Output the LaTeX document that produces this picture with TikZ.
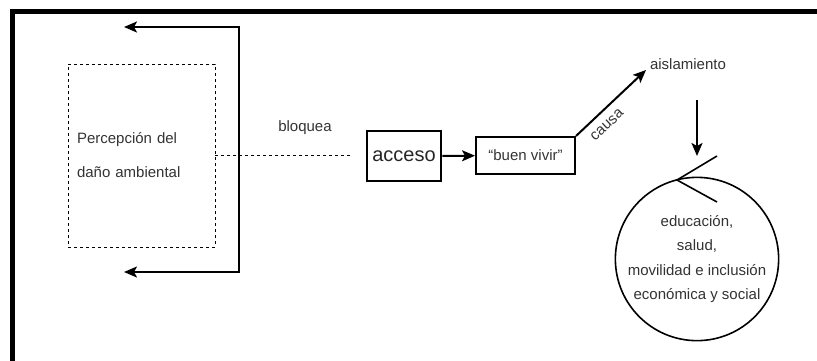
\documentclass[tikz,border=0pt]{standalone}
\usepackage{fontspec}
\setmainfont{Liberation Sans}
\usetikzlibrary{arrows.meta,positioning}
\definecolor{txtgray}{HTML}{333333}
\newcommand{\connectarrow}[2]{%
  \draw[->, line width=2pt] (#1) -- (#2)}
\newcommand{\connectdashed}[2]{%
  \draw[dashed, line width=0.9pt] (#1) -- (#2)}

\begin{document}
\begin{tikzpicture}[x=1pt, y=-1pt,
    every node/.style={text=txtgray, font=\fontsize{15}{18}\selectfont},
    dashbox/.style={rectangle, draw, dashed, line width=0.9pt,
    minimum width=147pt, minimum height=183pt, text width=129pt,
    inner xsep=9pt, align=left, font=\fontsize{15}{34}\selectfont},
    box/.style={rectangle, draw, line width=2pt, inner sep=0pt},
    bigcircle/.style={circle, draw, line width=1.6pt, minimum size=160pt,
    inner sep=0pt, align=center, font=\fontsize{15}{24.3}\selectfont},
    >={Stealth[length=13pt, width=11pt, inset=3pt]}]
  \useasboundingbox (0,0) rectangle (817,360);
  \draw[line width=5pt] (12,365) -- (12,11.5) -- (822,11.5);

  \node[dashbox] (percep) at (141.5,155.5) {Percepción del\\daño ambiental};
  \coordinate (brtop) at (124,27);
  \coordinate (brbot) at (124,272);
  \draw[<->, line width=2pt] (brtop) -- (239,27) -- (239,272) -- (brbot);

  \node (bloquea) at (305,128) {bloquea};
  \node[box, line width=2.5pt, minimum width=74pt, minimum height=50pt,
    text=black!85, font=\fontsize{20}{24}\selectfont] (acceso) at (404,156) {acceso};
  \node[box, minimum width=99pt, minimum height=37pt] (vivir) at (525.5,155.5) {“buen vivir”};
  \node (aisl) at (688,64) {aislamiento};
  \node[bigcircle] (servicios) at (697,259)
    {educación,\\salud,\\movilidad e inclusión\\económica y social};

  \coordinate (bloqend) at (350,155.5);
  \connectdashed{percep.east}{bloqend};
  \connectarrow{acceso}{vivir};
  \coordinate (causaend) at (646,70);
  \connectarrow{vivir.north east}{causaend};
  \node[rotate=43, inner sep=0pt] (causa) at (607,125) {causa};
  \coordinate (downtop) at (697,100);
  \coordinate (downend) at (697,156);
  \connectarrow{downtop}{downend};
  % open tip on the circle
  \coordinate (tipup) at (717,156);
  \coordinate (tipmid) at (677,180);
  \coordinate (tiplow) at (717,202);
  \draw[line width=1.6pt] (tipup) -- (tipmid) -- (tiplow);
\end{tikzpicture}
\end{document}
